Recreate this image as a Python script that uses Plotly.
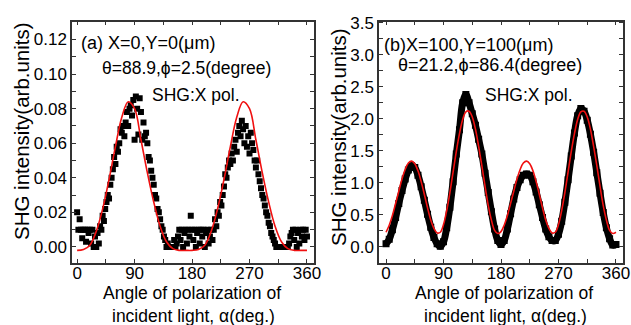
import plotly.graph_objects as go

# ---------------- data: panel (a) ----------------
alpha_a = list(range(0, 361, 2))
shg_a = [0.020, 0.010, 0.016, 0.010, 0.005, 0.010, 0.010, 0.003, 0.010, 0.008,
         0.010, 0.002, 0.010, 0.000, 0.006, 0.000, 0.008, 0.002, 0.012, 0.010,
         0.018, 0.015, 0.022, 0.026, 0.030, 0.028, 0.036, 0.040, 0.045, 0.052,
         0.048, 0.058, 0.055, 0.060, 0.068, 0.066, 0.070, 0.064, 0.072, 0.078,
         0.070, 0.080, 0.082, 0.076, 0.085, 0.062, 0.087, 0.080, 0.065, 0.086,
         0.078, 0.062, 0.072, 0.064, 0.066, 0.060, 0.052, 0.050, 0.044, 0.040,
         0.036, 0.030, 0.028, 0.022, 0.020, 0.016, 0.012, 0.010, 0.006, 0.004,
         0.000, 0.002, 0.000, 0.000, 0.000, 0.000, 0.004, 0.000, 0.002, 0.006,
         0.010, 0.004, 0.010, 0.000, 0.008, 0.010, 0.002, 0.010, 0.006, 0.018,
         0.010, 0.004, 0.010, 0.000, 0.008, 0.010, 0.002, 0.010, 0.006, 0.010,
         0.000, 0.008, 0.010, 0.002, 0.006, 0.010, 0.004, 0.010, 0.016, 0.012,
         0.020, 0.018, 0.026, 0.024, 0.030, 0.035, 0.042, 0.040, 0.046, 0.050,
         0.048, 0.054, 0.050, 0.058, 0.062, 0.055, 0.066, 0.070, 0.064, 0.073,
         0.068, 0.060, 0.070, 0.058, 0.064, 0.054, 0.066, 0.060, 0.056, 0.050,
         0.046, 0.050, 0.042, 0.038, 0.034, 0.030, 0.028, 0.024, 0.020, 0.018,
         0.014, 0.012, 0.008, 0.006, 0.004, 0.002, 0.000, 0.000, 0.000, 0.000,
         0.000, 0.000, 0.000, 0.000, 0.000, 0.000, 0.002, 0.006, 0.008, 0.010,
         0.004, 0.010, 0.000, 0.008, 0.002, 0.010, 0.006, 0.010, 0.004, 0.010,
         0.006]

fit_alpha_a = list(range(0, 361, 10))
fit_a = [-0.002, -0.0015, 0.001, 0.009, 0.022, 0.039, 0.058, 0.075, 0.084, 0.080,
         0.062, 0.043, 0.026, 0.012, 0.003, -0.001, -0.002, -0.002, -0.002, -0.0015,
         0.001, 0.009, 0.022, 0.039, 0.058, 0.075, 0.084, 0.080, 0.062, 0.043,
         0.026, 0.012, 0.003, -0.001, -0.002, -0.002, -0.002]

# ---------------- data: panel (b) ----------------
alpha_b = list(range(0, 361, 5))
shg_b = [0.05, 0.12, 0.27, 0.46, 0.68, 0.88, 1.06, 1.20, 1.27, 1.24,
         1.12, 0.94, 0.73, 0.51, 0.31, 0.15, 0.05, 0.01, 0.08, 0.30,
         0.62, 1.02, 1.45, 1.83, 2.25, 2.38, 2.25, 2.08, 1.90, 1.68,
         1.45, 1.15, 0.85, 0.55, 0.28, 0.10, 0.04, 0.10, 0.28, 0.52,
         0.75, 0.93, 1.05, 1.12, 1.14, 1.12, 1.02, 0.86, 0.66, 0.46,
         0.28, 0.16, 0.10, 0.10, 0.20, 0.40, 0.70, 1.05, 1.42, 1.78,
         2.05, 2.16, 2.12, 1.98, 1.76, 1.48, 1.16, 0.84, 0.54, 0.30,
         0.13, 0.03, 0.04]

fit_alpha_b = list(range(0, 361, 5))
fit_b = [0.23, 0.34, 0.49, 0.68, 0.87, 1.06, 1.21, 1.31, 1.34, 1.30,
         1.19, 1.02, 0.82, 0.61, 0.42, 0.29, 0.22, 0.23, 0.35, 0.57,
         0.85, 1.17, 1.49, 1.77, 1.99, 2.11, 2.12, 2.03, 1.84, 1.57,
         1.27, 0.95, 0.65, 0.42, 0.26, 0.21, 0.24, 0.34, 0.49, 0.68,
         0.87, 1.06, 1.21, 1.31, 1.34, 1.30, 1.19, 1.02, 0.82, 0.61,
         0.42, 0.29, 0.22, 0.23, 0.35, 0.57, 0.85, 1.17, 1.49, 1.77,
         1.99, 2.11, 2.12, 2.03, 1.84, 1.57, 1.27, 0.95, 0.65, 0.42,
         0.26, 0.21, 0.23]

x_ticks = [0, 90, 180, 270, 360]

FONT = "Liberation Sans, Arial, sans-serif"
W, H = 631, 325
RED = "#f01010"


def px(x):
    return x / W


def py(y):
    return 1 - y / H


fig = go.Figure()
fig.add_trace(go.Scatter(x=alpha_a, y=shg_a, mode="markers", xaxis="x", yaxis="y",
                         marker=dict(symbol="square", size=6, color="black"),
                         showlegend=False))
fig.add_trace(go.Scatter(x=fit_alpha_a, y=fit_a, mode="lines", xaxis="x", yaxis="y",
                         line=dict(color=RED, width=1.6, shape="spline"), showlegend=False))
fig.add_trace(go.Scatter(x=alpha_b, y=shg_b, mode="lines+markers", xaxis="x2", yaxis="y2",
                         line=dict(color="black", width=7, shape="spline"),
                         marker=dict(symbol="square", size=7, color="black"),
                         showlegend=False))
fig.add_trace(go.Scatter(x=fit_alpha_b, y=fit_b, mode="lines", xaxis="x2", yaxis="y2",
                         line=dict(color=RED, width=1.6, shape="spline"), showlegend=False))

ydom = [py(263), py(21.5)]


def xaxis(dom, rng, anchor):
    return dict(domain=dom, range=rng, anchor=anchor, tickvals=x_ticks, ticks="inside",
                ticklen=4, tickwidth=1.2, tickcolor="#333", ticklabelstandoff=-6,
                ticklabeloverflow="allow", automargin=False,
                minor=dict(dtick=45, tick0=0, ticks="inside", ticklen=4, tickcolor="#333"),
                showline=True, mirror="ticks", linecolor="#333", linewidth=1.5,
                showgrid=False, zeroline=False,
                tickfont=dict(family=FONT, size=17, color="black"))


def yaxis(anchor, rng, dtick, minor, fmt):
    return dict(domain=ydom, range=rng, anchor=anchor, dtick=dtick, tick0=0, tickformat=fmt,
                ticks="inside", ticklen=4, tickwidth=1.2, tickcolor="#333",
                ticklabeloverflow="allow", automargin=False,
                minor=dict(dtick=minor, tick0=0, ticks="inside", ticklen=4, tickcolor="#333"),
                showline=True, mirror="ticks", linecolor="#333", linewidth=1.5,
                showgrid=False, zeroline=False,
                tickfont=dict(family=FONT, size=17, color="black"))


fig.update_layout(
    width=W, height=H, margin=dict(l=0, r=0, t=0, b=0),
    paper_bgcolor="white", plot_bgcolor="white",
    xaxis=xaxis([px(72), px(314)], [-8, 371], "y"),
    yaxis=yaxis("x", [-0.0093, 0.1304], 0.02, 0.01, ".2f"),
    xaxis2=xaxis([px(379), px(623)], [-11, 371], "y2"),
    yaxis2=yaxis("x2", [-0.25, 3.52], 0.5, 0.25, ".1f"),
)


def ann(text, x, y, xanchor="center", size=17, angle=0):
    fig.add_annotation(text=text, x=px(x), y=py(y), xref="paper", yref="paper",
                       xanchor=xanchor, yanchor="middle", showarrow=False, textangle=angle,
                       font=dict(family=FONT, size=size, color="black"))


# panel (a) texts
ann("(a) X=0,Y=0(μm)", 79, 43, xanchor="left", size=18)
ann("θ=88.9,ϕ=2.5(degree)", 186, 68, size=17.5)
ann("SHG:X pol.", 196, 95, size=17.5)
ann("SHG intensity(arb.units)", 21, 131, size=20.5, angle=-90)
ann("Angle of polarization of", 192, 293, size=17.5)
ann("incident light, α(deg.)", 193, 316, size=17.5)

# panel (b) texts
ann("(b)X=100,Y=100(μm)", 382, 45, xanchor="left", size=18)
ann("θ=21.2,ϕ=86.4(degree)", 490, 65, size=18)
ann("SHG:X pol.", 529, 95, size=17.5)
ann("SHG intensity(arb.units)", 338, 137, size=20.5, angle=-90)
ann("Angle of polarization of", 504, 293, size=17.5)
ann("incident light, α(deg.)", 505, 316, size=17.5)

fig.write_html(
    "out.html",
    config={"displayModeBar": False},
    post_script="document.body.style.margin='0';document.body.style.overflow='hidden';",
)
